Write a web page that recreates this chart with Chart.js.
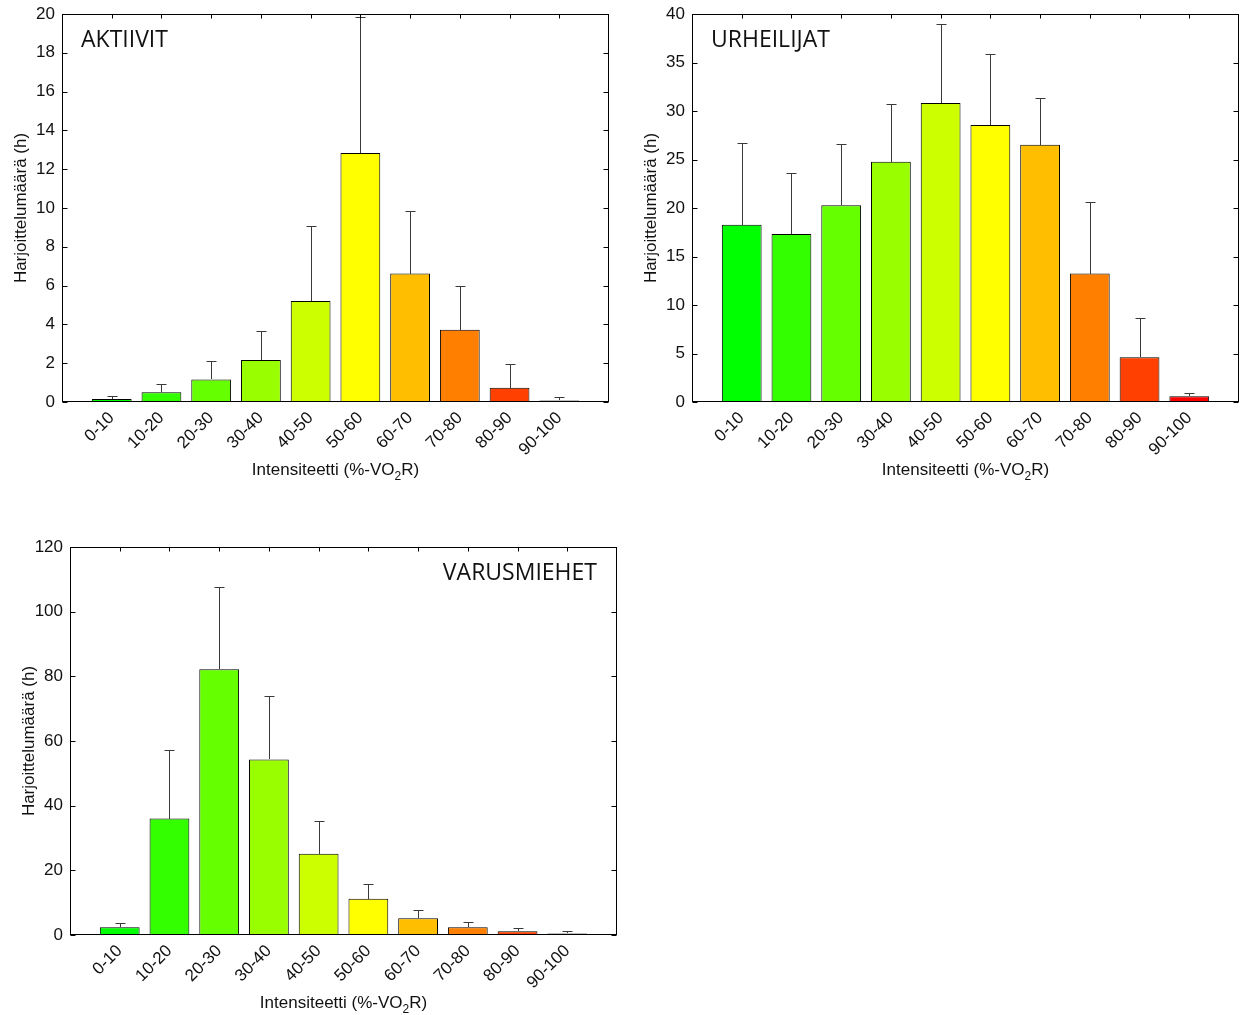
<!DOCTYPE html>
<html>
<head>
<meta charset="utf-8">
<script src="https://cdn.jsdelivr.net/npm/chart.js@4.4.1/dist/chart.umd.min.js"></script>
<style>
    body { margin: 0; background: #fff; width: 1242px; height: 1015px; overflow: hidden; position: relative; }
    .panel { position: absolute; width: 620px; height: 500px; }
</style>
</head>
<body>
<div class="panel" style="left:0;top:0"><canvas id="aktiivit"></canvas></div>
<div class="panel" style="left:630px;top:0"><canvas id="urheilijat"></canvas></div>
<div class="panel" style="left:8px;top:533px"><canvas id="varusmiehet"></canvas></div>
<script>
let categories = ["0-10", "10-20", "20-30", "30-40", "40-50", "50-60", "60-70", "70-80", "80-90", "90-100"];
let colors = ["#00ff00", "#33ff00", "#66ff00", "#99ff00", "#ccff00", "#ffff00", "#ffbf00", "#ff8000", "#ff4000", "#ff0000"];

// mean hours per intensity band and the SD drawn as upper error bar
let aktiivitMean = [0.15, 0.5, 1.16, 2.16, 5.2, 12.84, 6.62, 3.72, 0.74, 0.08];
let aktiivitSd = [0.17, 0.45, 0.94, 1.5, 3.87, 7.0, 3.21, 2.25, 1.23, 0.19];

let urheilijatMean = [18.28, 17.31, 20.28, 24.76, 30.83, 28.55, 26.52, 13.24, 4.62, 0.6];
let urheilijatSd = [8.38, 6.28, 6.27, 5.96, 8.17, 7.35, 4.86, 7.38, 4.04, 0.36];

let varusmiehetMean = [2.37, 36.0, 82.2, 54.3, 25.1, 11.25, 5.16, 2.37, 1.14, 0.5];
let varusmiehetSd = [1.23, 21.2, 25.5, 19.5, 10.1, 4.55, 2.58, 1.63, 0.92, 0.8];

Chart.defaults.font.family = '"Liberation Sans", Arial, sans-serif';
Chart.defaults.font.size = 17;
Chart.defaults.color = "#111";

function errorBars(means, sds) {
    return {
        id: "errorBars",
        afterDatasetsDraw(chart) {
            let ctx = chart.ctx;
            let y = chart.scales.y;
            let meta = chart.getDatasetMeta(0);
            ctx.save();
            ctx.strokeStyle = "#3a3a3a";
            ctx.lineWidth = 1;
            ctx.beginPath();
            meta.data.forEach((bar, i) => {
                let x = Math.round(bar.x) + 0.5;
                let top = Math.round(y.getPixelForValue(means[i] + sds[i])) + 0.5;
                ctx.moveTo(x, Math.round(bar.y));
                ctx.lineTo(x, top);
                ctx.moveTo(x - 5, top);
                ctx.lineTo(x + 5, top);
            });
            ctx.stroke();
            ctx.restore();
        }
    };
}

function frame(label, alignRight) {
    return {
        id: "frame",
        afterDraw(chart) {
            let { ctx, chartArea: a, scales } = chart;
            let l = Math.round(a.left) + 0.5, r = Math.round(a.right) - 0.5;
            let t = Math.round(a.top) + 0.5, b = Math.round(a.bottom) - 0.5;
            ctx.save();
            ctx.strokeStyle = "#000";
            ctx.lineWidth = 1;
            ctx.strokeRect(l, t, r - l, b - t);

            // inward ticks
            ctx.beginPath();
            scales.y.ticks.forEach(tk => {
                let y = Math.round(scales.y.getPixelForValue(tk.value)) + 0.5;
                ctx.moveTo(l, y); ctx.lineTo(l + 5, y);
                ctx.moveTo(r, y); ctx.lineTo(r - 5, y);
            });
            scales.x.ticks.forEach(tk => {
                let x = Math.round(scales.x.getPixelForValue(tk.value)) + 0.5;
                ctx.moveTo(x, t); ctx.lineTo(x, t + 4);
            });
            ctx.stroke();

            ctx.fillStyle = "#111";

            // x title with subscript 2
            let parts = [["Intensiteetti (%-VO", 17, 0], ["2", 12, 5], ["R)", 17, 0]];
            let total = 0;
            parts.forEach(p => {
                ctx.font = p[1] + 'px "Liberation Sans", Arial';
                total += ctx.measureText(p[0]).width;
            });
            let x = (a.left + a.right) / 2 - total / 2;
            ctx.textBaseline = "alphabetic";
            ctx.textAlign = "left";
            parts.forEach(p => {
                ctx.font = p[1] + 'px "Liberation Sans", Arial';
                ctx.fillText(p[0], x, a.bottom + 73 + p[2]);
                x += ctx.measureText(p[0]).width;
            });

            // y title
            ctx.save();
            ctx.translate(a.left - 41, (a.top + a.bottom) / 2);
            ctx.rotate(-Math.PI / 2);
            ctx.font = '17px "Liberation Sans", Arial';
            ctx.textAlign = "center";
            ctx.textBaseline = "middle";
            ctx.fillText("Harjoittelumäärä (h)", 0, 0);
            ctx.restore();

            // group name
            ctx.font = '23px "Open Sans", sans-serif';
            ctx.fillStyle = "#111";
            if (alignRight) {
                ctx.textAlign = "right";
                ctx.fillText(label, a.right - 20, a.top + 33);
            } else {
                ctx.textAlign = "left";
                ctx.fillText(label, a.left + 19, a.top + 33);
            }
            ctx.restore();
        }
    };
}

function makeChart(id, label, means, sds, yMax, yStep, alignRight) {
    new Chart(document.getElementById(id), {
        type: "bar",
        data: {
            datasets: [{
                data: means.map((v, i) => ({ x: i + 1, y: v })),
                backgroundColor: colors,
                borderColor: "#000",
                borderWidth: 1,
                barPercentage: 0.8,
                categoryPercentage: 1.0
            }]
        },
        options: {
            animation: false,
            responsive: true,
            maintainAspectRatio: false,
            layout: { padding: { left: 0, top: 14, right: 11, bottom: 8 } },
            plugins: { legend: { display: false }, tooltip: { enabled: false } },
            scales: {
                x: {
                    type: "linear",
                    min: 0,
                    max: 11,
                    offset: false,
                    grid: { display: false, drawTicks: false },
                    border: { display: false },
                    afterBuildTicks: axis => {
                        axis.ticks = categories.map((c, i) => ({ value: i + 1 }));
                    },
                    afterFit: scale => {
                        scale.height = 90;
                        scale.paddingLeft = 0;
                        scale.paddingRight = 0;
                    },
                    ticks: {
                        autoSkip: false,
                        minRotation: 45,
                        maxRotation: 45,
                        padding: 6,
                        callback: v => categories[v - 1]
                    }
                },
                y: {
                    min: 0,
                    max: yMax,
                    grid: { display: false, drawTicks: false },
                    border: { display: false },
                    afterFit: scale => {
                        scale.width = 62;
                        scale.paddingTop = 0;
                        scale.paddingBottom = 0;
                    },
                    ticks: { stepSize: yStep, padding: 7 }
                }
            }
        },
        plugins: [errorBars(means, sds), frame(label, alignRight)]
    });
}

makeChart("aktiivit", "AKTIIVIT", aktiivitMean, aktiivitSd, 20, 2, false);
makeChart("urheilijat", "URHEILIJAT", urheilijatMean, urheilijatSd, 40, 5, false);
makeChart("varusmiehet", "VARUSMIEHET", varusmiehetMean, varusmiehetSd, 120, 20, true);
</script>
</body>
</html>
